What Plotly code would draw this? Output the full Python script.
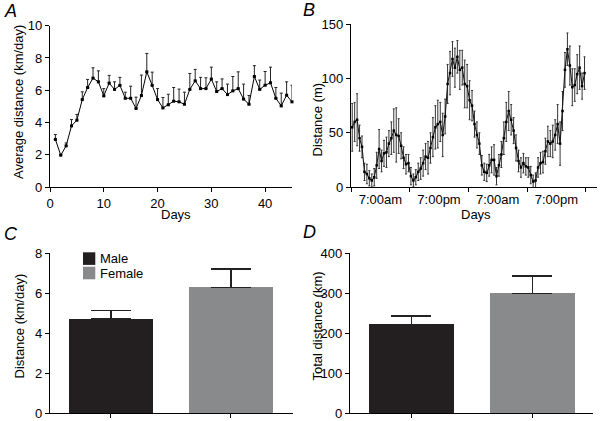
import plotly.graph_objects as go

# Panel A: average daily running distance over 45 days (mean + upward SEM)
days = list(range(1, 46))
avg_km = [2.95, 1.97, 2.55, 3.79, 4.14, 5.42, 6.17, 6.75, 6.52, 5.65,
          6.44, 6.05, 6.30, 5.50, 5.50, 4.87, 5.67, 7.14, 6.30, 5.42,
          4.90, 5.10, 5.32, 5.28, 5.13, 6.05, 6.58, 6.10, 6.10, 6.69,
          5.92, 6.10, 5.73, 5.96, 6.10, 5.45, 5.13, 6.85, 6.05, 6.31,
          6.46, 5.50, 5.03, 5.69, 5.28]
avg_err = [0.30, 0.05, 0.18, 0.39, 0.36, 0.48, 0.50, 0.64, 0.68, 0.45,
           0.48, 0.47, 0.50, 0.38, 0.75, 0.70, 1.27, 1.14, 0.82, 0.68,
           0.65, 0.65, 0.85, 0.79, 0.75, 0.99, 0.71, 0.70, 0.67, 0.74,
           0.60, 0.60, 0.65, 0.89, 1.04, 0.93, 0.54, 0.67, 0.58, 0.85,
           0.97, 0.67, 0.79, 0.83, 1.03]

# Panel B: distance per 30-min bin over 48 h
hours = [i * 0.5 + 0.25 for i in range(96)]
dist_m = [55, 60, 62, 45, 37, 14, 12, 8, 6, 9, 20, 35,
          24, 31, 32, 40, 45, 52, 48, 47, 38, 27, 21, 22,
          10, 6, 9, 14, 17, 22, 28, 27, 36, 46, 55, 58,
          60, 48, 65, 95, 105, 118, 110, 120, 108, 110, 95, 93,
          80, 75, 58, 48, 40, 20, 14, 13, 20, 25, 25, 10,
          20, 30, 45, 60, 70, 62, 52, 36, 24, 18, 22, 19,
          18, 11, 5, 6, 18, 22, 23, 33, 42, 40, 42, 48,
          58, 40, 70, 108, 127, 112, 92, 94, 104, 110, 93, 105]
dist_err = [22, 18, 24, 12, 10, 8, 9, 7, 6, 8, 12, 18,
            10, 12, 14, 12, 15, 20, 25, 16, 12, 10, 9, 8,
            8, 6, 7, 8, 10, 12, 12, 15, 14, 18, 20, 22,
            18, 20, 16, 18, 20, 16, 18, 15, 18, 16, 22, 20,
            18, 14, 12, 12, 10, 9, 8, 8, 10, 12, 14, 8,
            10, 12, 15, 18, 18, 14, 12, 12, 10, 9, 9, 8,
            9, 8, 6, 7, 9, 10, 10, 12, 14, 12, 15, 14,
            18, 20, 18, 16, 15, 18, 17, 15, 18, 20, 12, 15]
time_ticks = [6, 18, 30, 42]
time_labels = ["7:00am", "7:00pm", "7:00am", "7:00pm"]
time_bounds = [0, 12, 24, 36, 48]

# Panels C and D: sex comparison
sexes = ["Male", "Female"]
daily_km = [4.72, 6.30]
daily_err = [0.41, 0.92]
total_km = [222.5, 300.0]
total_err = [21.0, 43.0]
bar_colors = ["#231f20", "#898a8c"]

FONT = "Liberation Sans, Arial, sans-serif"
W, H = 600, 421


def xd(a, b):
    return [a / W, b / W]


def yd(top, bottom):
    return [1 - bottom / H, 1 - top / H]


def px(x):
    return x / W


def py(y):
    return 1 - y / H


axis_style = dict(showgrid=False, zeroline=False, showline=True, linecolor="black",
                  linewidth=1.3, ticks="outside", ticklen=4, tickwidth=1.2,
                  tickcolor="black", tickfont=dict(size=13, color="black", family=FONT))

fig = go.Figure()

# A
fig.add_trace(go.Scatter(
    x=days, y=avg_km, mode="lines+markers", xaxis="x", yaxis="y",
    line=dict(color="black", width=1), marker=dict(symbol="square", size=3, color="black"),
    error_y=dict(type="data", symmetric=False, array=avg_err, arrayminus=[0] * len(avg_err),
                 color="#222", thickness=1, width=1.5),
    cliponaxis=False, showlegend=False))

# B
fig.add_trace(go.Scatter(
    x=hours, y=dist_m, mode="lines+markers", xaxis="x2", yaxis="y2",
    line=dict(color="#1a1a1a", width=1.1), marker=dict(symbol="square", size=2.5, color="black"),
    error_y=dict(type="data", array=dist_err, color="#333", thickness=1, width=1),
    cliponaxis=False, showlegend=False))

# C
for i, s in enumerate(sexes):
    fig.add_trace(go.Bar(
        x=[i], y=[daily_km[i]], name=s, xaxis="x3", yaxis="y3", width=0.7,
        marker=dict(color=bar_colors[i], line=dict(width=0)),
        error_y=dict(type="data", symmetric=False, array=[daily_err[i]], arrayminus=[0],
                     color="#222", thickness=1.5, width=20),
        showlegend=False))

# D
for i, s in enumerate(sexes):
    fig.add_trace(go.Bar(
        x=[i], y=[total_km[i]], name=s, xaxis="x4", yaxis="y4", width=0.7,
        marker=dict(color=bar_colors[i], line=dict(width=0)),
        error_y=dict(type="data", symmetric=False, array=[total_err[i]], arrayminus=[0],
                     color="#222", thickness=1.5, width=20),
        showlegend=False))

fig.update_layout(
    width=W, height=H, margin=dict(l=0, r=0, t=0, b=0, autoexpand=False),
    paper_bgcolor="white", plot_bgcolor="white",
    font=dict(family=FONT, color="black", size=12),
    bargap=0, showlegend=False,
    xaxis=dict(axis_style, domain=xd(50, 292), range=[0, 45], tickvals=[0, 10, 20, 30, 40],
               anchor="y"),
    yaxis=dict(axis_style, domain=yd(25.7, 187), range=[0, 10], tickvals=[0, 2, 4, 6, 8, 10],
               anchor="x"),
    xaxis2=dict(axis_style, domain=xd(351, 597), range=[0, 50.3], tickvals=time_ticks,
                ticktext=time_labels, ticks="", anchor="y2",
                minor=dict(tickvals=time_bounds, ticks="outside", ticklen=4, tickwidth=1.2,
                           tickcolor="black")),
    yaxis2=dict(axis_style, domain=yd(24.3, 187), range=[0, 150], tickvals=[0, 50, 100, 150],
                anchor="x2"),
    xaxis3=dict(axis_style, domain=xd(50, 293), range=[-0.508, 1.517], tickvals=[0, 1],
                showticklabels=False, anchor="y3"),
    yaxis3=dict(axis_style, domain=yd(253.3, 413.3), range=[0, 8], tickvals=[0, 2, 4, 6, 8],
                anchor="x3"),
    xaxis4=dict(axis_style, domain=xd(350, 593), range=[-0.508, 1.5], tickvals=[0, 1],
                showticklabels=False, anchor="y4"),
    yaxis4=dict(axis_style, domain=yd(253.3, 413.3), range=[0, 400],
                tickvals=[0, 100, 200, 300, 400], anchor="x4"),
)

# axis titles placed as annotations so they sit where the original puts them
titles = [("Average distance (km/day)", 18.5, 102.5, -90),
          ("Days", 175.8, 214, 0),
          ("Distance (m)", 316.5, 120, -90),
          ("Days", 475.5, 214, 0),
          ("Distance (km/day)", 18.5, 326, -90),
          ("Total distance (km)", 316.5, 326, -90)]
for text, x, y, ang in titles:
    fig.add_annotation(text=text, x=px(x), y=py(y), xref="paper", yref="paper",
                       xanchor="center", yanchor="middle", showarrow=False, textangle=ang,
                       font=dict(size=13, family=FONT, color="black"))

# legend for panel C, drawn by hand to match the tight original layout
for i, s in enumerate(sexes):
    top = 252.3 + i * 14.4
    fig.add_shape(type="rect", xref="paper", yref="paper",
                  x0=px(83), x1=px(95.3), y0=py(top + 12.6), y1=py(top),
                  fillcolor=bar_colors[i], line=dict(width=0))
    fig.add_annotation(text=s, x=px(97.5), y=py(top + 6.5), xref="paper", yref="paper",
                       xanchor="left", yanchor="middle", showarrow=False,
                       font=dict(size=13, family=FONT, color="black"))

for lab, x, y in [("A", 2, 11), ("B", 301, 10), ("C", 2, 234), ("D", 301, 232)]:
    fig.add_annotation(text=lab, x=px(x), y=py(y), xref="paper", yref="paper",
                       xanchor="left", yanchor="middle", showarrow=False,
                       font=dict(size=18, family=FONT, style="italic", color="black"))

# drop the page's default body margin so the 600x421 figure fills the window
fig.write_html("out.html", config={"displayModeBar": False},
               post_script="document.body.style.margin='0';document.body.style.overflow='hidden';")
